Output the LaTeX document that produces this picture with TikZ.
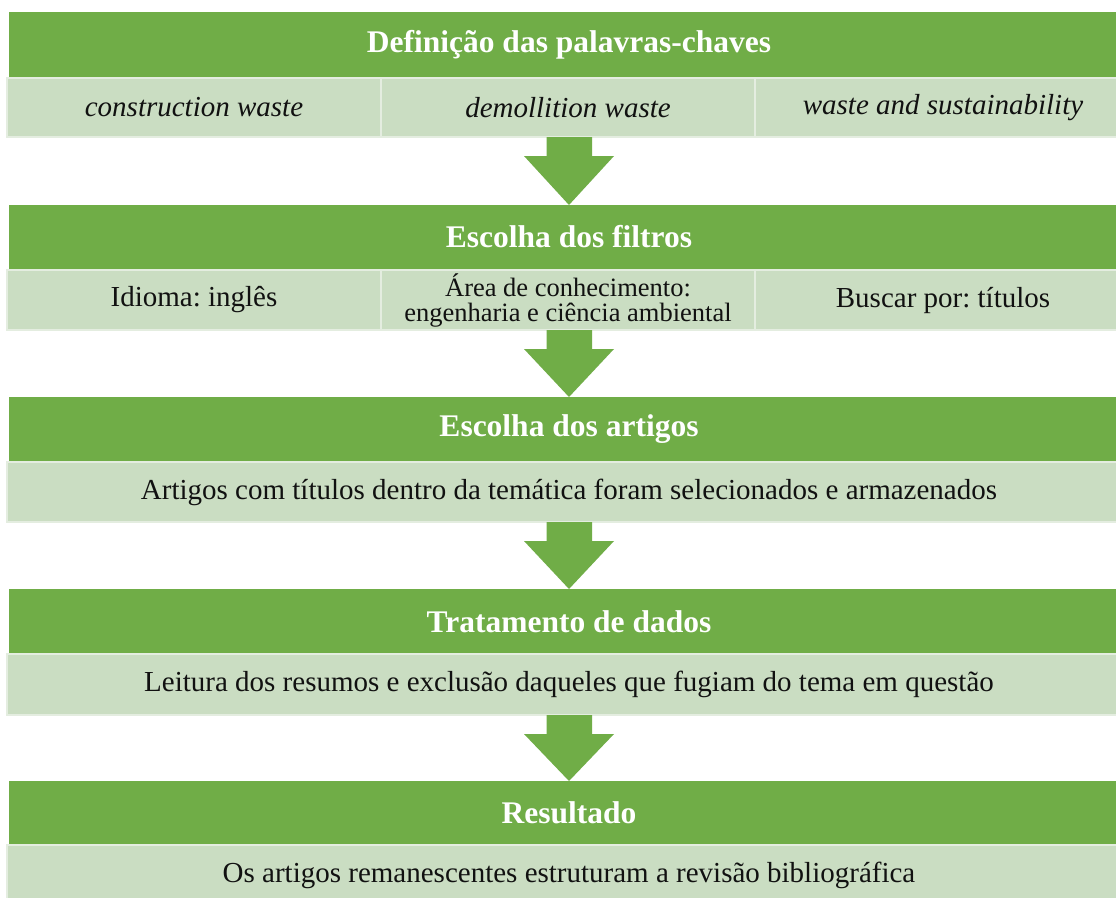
\documentclass[tikz,border=0pt]{standalone}
\usepackage{fontspec}
\setmainfont{Liberation Serif}
\usetikzlibrary{calc}
\definecolor{hdrgreen}{RGB}{112,173,71}
\definecolor{rowgreen}{RGB}{202,221,194}
\definecolor{sepcol}{RGB}{228,237,224}
\definecolor{txt}{RGB}{17,17,17}
\newcommand\flowarrow[2]{%
  \path let \p1=(#1.south), \p2=(#2.north) in
    [fill=hdrgreen] (546.5pt,\y1) -- (592pt,\y1) -- (592pt,\y1-19pt) -- (614pt,\y1-19pt)
    -- (569pt,\y2) -- (524pt,\y1-19pt) -- (546.5pt,\y1-19pt) -- cycle;}
\frenchspacing
\begin{document}
\begin{tikzpicture}[x=1pt,y=-1pt,
  hdr/.style={fill=hdrgreen, text=white, font=\fontsize{31.5}{36}\selectfont\bfseries,
    anchor=north west, minimum width=1120pt, inner sep=0pt, outer sep=0pt},
  rowbox/.style={fill=rowgreen, draw=sepcol, line width=1.5pt, text=txt,
    font=\fontsize{29}{33}\selectfont, anchor=north west, inner sep=0pt, outer sep=0pt},
  fullrow/.style={rowbox, minimum width=1124pt},
  cell/.style={rowbox, minimum width=374pt},
  lastcell/.style={rowbox, minimum width=376pt}
]
\useasboundingbox (0,0) rectangle (1116,897);
\fill[white] (0,0) rectangle (1116,897);

% Step 1
\node[hdr, minimum height=65pt] (h1) at (9,12) {Definição das palavras-chaves};
\node[cell, minimum height=59pt] (c11) at (7,78) {\itshape construction waste};
\node[cell, minimum height=59pt] (c12) at (381,78) {\itshape demollition waste};
\node[lastcell, minimum height=59pt] (c13) at (755,78) {\itshape waste and sustainability};

% Step 2
\node[hdr, minimum height=64pt] (h2) at (9,205) {Escolha dos filtros};
\node[cell, minimum height=60pt] (c21) at (7,270) {Idioma: inglês};
\node[cell, minimum height=60pt, align=center, font=\fontsize{26.5}{25}\selectfont] (c22) at (381,270)
  {Área de conhecimento:\\engenharia e ciência ambiental};
\node[lastcell, minimum height=60pt] (c23) at (755,270) {Buscar por: títulos};

% Step 3
\node[hdr, minimum height=65pt] (h3) at (9,397) {Escolha dos artigos};
\node[fullrow, minimum height=60pt] (r3) at (7,462)
  {Artigos com títulos dentro da temática foram selecionados e armazenados};

% Step 4
\node[hdr, minimum height=65pt] (h4) at (9,589) {Tratamento de dados};
\node[fullrow, minimum height=61pt] (r4) at (7,654)
  {Leitura dos resumos e exclusão daqueles que fugiam do tema em questão};

% Step 5
\node[hdr, minimum height=64pt] (h5) at (9,781) {Resultado};
\node[fullrow, minimum height=60pt] (r5) at (7,845)
  {Os artigos remanescentes estruturam a revisão bibliográfica};

% Arrows
\flowarrow{c12}{h2}
\flowarrow{c22}{h3}
\flowarrow{r3}{h4}
\flowarrow{r4}{h5}
\end{tikzpicture}
\end{document}
